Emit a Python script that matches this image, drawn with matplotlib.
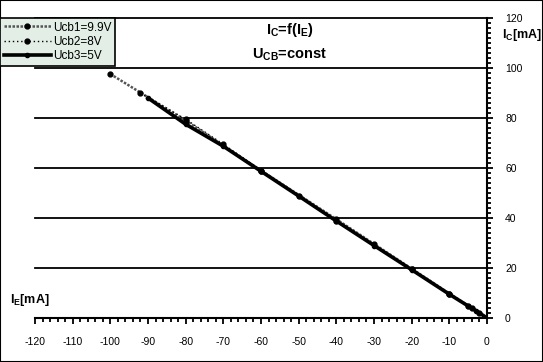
import matplotlib
matplotlib.use("Agg")
import matplotlib.pyplot as plt
from matplotlib.ticker import MultipleLocator
from matplotlib.patches import Rectangle

plt.rcParams['font.family'] = ['Liberation Sans', 'DejaVu Sans']
plt.rcParams['mathtext.fontset'] = 'custom'
plt.rcParams['mathtext.rm'] = 'Liberation Sans'
plt.rcParams['mathtext.bf'] = 'Liberation Sans:bold'

# Data
ie1 = [-100, -80, -60, -40, -20, -10, -5, -2, 0]
ic1 = [97.6, 79.0, 59.0, 39.5, 19.7, 9.8, 4.9, 2.0, 0]
ie2 = [-92, -80, -70, -60, -50, -40, -30, -20, -10, -4, 0]
ic2 = [90.0, 79.5, 69.5, 59.0, 49.0, 39.0, 29.5, 19.5, 9.6, 4.0, 0]
ie3 = [-90, -80, -70, -60, -50, -40, -30, -20, -10, -5, -3, 0]
ic3 = [88.0, 77.5, 68.7, 58.7, 48.8, 38.8, 29.0, 19.3, 9.5, 4.8, 3.0, 0]
labels = ['Ucb1=9.9V', 'Ucb2=8V', 'Ucb3=5V']
xticks = [-120, -110, -100, -90, -80, -70, -60, -50, -40, -30, -20, -10, 0]
yticks = [0, 20, 40, 60, 80, 100, 120]

W, H = 543, 362
fig = plt.figure(figsize=(W/100, H/100), dpi=100)
ax = fig.add_axes([35/W, 1-318/H, (487-35)/W, 300/H])

for y in yticks:
    ax.axhline(y, color='black', lw=1.3, zorder=1, clip_on=False)

l1, = ax.plot(ie1, ic1, color='#555555', lw=1.8, ls=(0, (1, 0.6)), marker='o', ms=3.5,
              mfc='black', mec='black', zorder=3)
l2, = ax.plot(ie2, ic2, color='black', lw=1.0, ls=(0, (1, 2)), marker='o', ms=3.5,
              mfc='black', mec='black', zorder=3)
l3, = ax.plot(ie3, ic3, color='black', lw=2.6, ls='-', marker='o', ms=3,
              mfc='black', mec='black', zorder=4)

ax.set_xlim(-120, 0)
ax.set_ylim(0, 120)
ax.set_xticks(xticks)
ax.set_yticks(yticks)
ax.xaxis.set_minor_locator(MultipleLocator(2))
ax.yaxis.set_minor_locator(MultipleLocator(2))
ax.set_xticklabels([str(v) for v in xticks])
ax.set_yticklabels([str(v) for v in yticks])

for s in ['left', 'top']:
    ax.spines[s].set_visible(False)
ax.spines['bottom'].set_linewidth(1.5)
ax.spines['right'].set_linewidth(1.5)
ax.yaxis.tick_right()
ax.tick_params(axis='x', which='major', direction='out', length=4, width=1.3, pad=10, labelsize=7.5)
ax.tick_params(axis='x', which='minor', direction='out', length=3, width=1.3)
ax.tick_params(axis='y', which='major', direction='out', length=4, width=1.3, pad=9, labelsize=7.5)
ax.tick_params(axis='y', which='minor', direction='out', length=3, width=1.3)
ax.set_facecolor('white')

fig.text(290/W, 1-30/H, r'$\mathbf{I_{C}}$=f($\mathbf{I_{E}}$)', ha='center', va='center',
         fontsize=10.5, fontweight='bold')
fig.text(290/W, 1-55/H, r'$\mathbf{U_{CB}}$=const', ha='center', va='center',
         fontsize=10.5, fontweight='bold')
fig.text(522/W, 1-35/H, r'$\mathbf{I_{C}}$[mA]', ha='center', va='center', fontsize=9,
         fontweight='bold')
fig.text(30/W, 1-300/H, r'$\mathbf{I_{E}}$[mA]', ha='center', va='center', fontsize=9,
         fontweight='bold')

leg = fig.legend([l1, l2, l3], labels, loc='upper left', bbox_to_anchor=(0, 1-18/H),
                 bbox_transform=fig.transFigure, fancybox=False, framealpha=1,
                 edgecolor='black', facecolor='#e2eee6', fontsize=8.5,
                 handlelength=4.0, handletextpad=0.2, borderpad=0.3, labelspacing=0.2,
                 borderaxespad=0)
leg.get_frame().set_linewidth(1.2)

fig.patches.append(Rectangle((0, 0), 1, 1, transform=fig.transFigure, fill=False,
                             edgecolor='black', lw=1.5))

fig.savefig('out.png', dpi=100)
